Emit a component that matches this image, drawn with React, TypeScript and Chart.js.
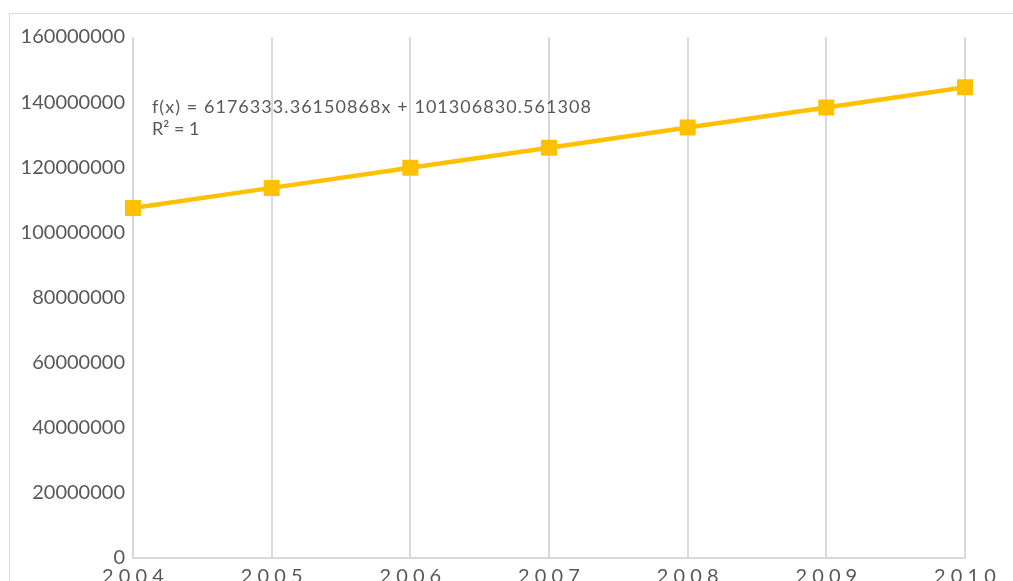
import React, { useEffect, useRef } from "react";
import { Chart, registerables } from "chart.js";

Chart.register(...registerables);

const years = ["2004", "2005", "2006", "2007", "2008", "2009", "2010"];
const values = [107483164, 113659497, 119835831, 126012164, 132188497, 138364831, 144541164];
const yTicks = [0, 20000000, 40000000, 60000000, 80000000, 100000000, 120000000, 140000000, 160000000];
const trendLines = ["f(x) = 6176333.36150868x + 101306830.561308", "R\u00B2 = 1"];

const W = 1003;
const H = 600;
const FONT = "Lato, 'Open Sans', sans-serif";

const trendPlugin = {
  id: "trendText",
  afterDatasetsDraw(chart: any) {
    const ctx = chart.ctx as CanvasRenderingContext2D;
    ctx.save();
    ctx.font = `18px ${FONT}`;
    ctx.fillStyle = "#595959";
    ctx.textAlign = "left";
    ctx.textBaseline = "alphabetic";
    const w = ctx.measureText(trendLines[0]).width;
    const target = 439;
    const n = trendLines[0].length;
    const ls = Math.max(0, (target - w) / (n - 1));
    (ctx as any).letterSpacing = `${ls}px`;
    ctx.fillText(trendLines[0], 142, 99);
    (ctx as any).letterSpacing = "0px";
    ctx.fillText(trendLines[1], 142, 121);
    ctx.restore();
  },
};

export default function App() {
  const ref = useRef<HTMLCanvasElement | null>(null);
  useEffect(() => {
    if (!ref.current) return;
    const chart = new Chart(ref.current, {
      type: "line",
      data: {
        labels: years,
        datasets: [
          {
            data: values,
            borderColor: "#FFC000",
            backgroundColor: "#FFC000",
            borderWidth: 4.5,
            pointStyle: "rect",
            pointRadius: 11.3,
            pointBorderWidth: 0,
            tension: 0,
          },
        ],
      },
      options: {
        responsive: false,
        animation: false,
        layout: { padding: { left: 0, right: W - 955, top: 23, bottom: 0 } },
        plugins: { legend: { display: false }, tooltip: { enabled: false } },
        scales: {
          x: {
            type: "category",
            offset: false,
            grid: { color: "#d9d9d9", lineWidth: 2, drawTicks: false },
            border: { display: true, color: "#d9d9d9", width: 2 },
            ticks: {
              font: { family: FONT, size: 20 },
              color: "#595959",
              padding: 7,
              maxRotation: 0,
              autoSkip: false,
              callback: (_v: any, i: number) => years[i].split("").join(" "),
            },
            afterFit: (s: any) => {
              s.height = H - 544;
            },
          },
          y: {
            min: 0,
            max: 160000000,
            afterBuildTicks: (s: any) => {
              s.ticks = yTicks.map((v) => ({ value: v }));
            },
            grid: { display: false, drawTicks: false },
            border: { display: false },
            ticks: {
              font: { family: FONT, size: 20 },
              color: "#595959",
              padding: 8,
              callback: (v: any) => String(v),
            },
            afterFit: (s: any) => {
              s.width = 123;
            },
          },
        },
      },
      plugins: [trendPlugin],
    });
    return () => chart.destroy();
  }, []);

  return (
    <div style={{ position: "fixed", left: 0, top: 0, width: 1013, height: 581, overflow: "hidden", background: "#fff" }}>
      <div
        style={{
          position: "absolute",
          left: 9,
          top: 13,
          width: W + 40,
          height: H + 20,
          border: "1px solid #d9d9d9",
        }}
      >
        <canvas ref={ref} width={W} height={H} style={{ display: "block", width: W, height: H }} />
      </div>
    </div>
  );
}
